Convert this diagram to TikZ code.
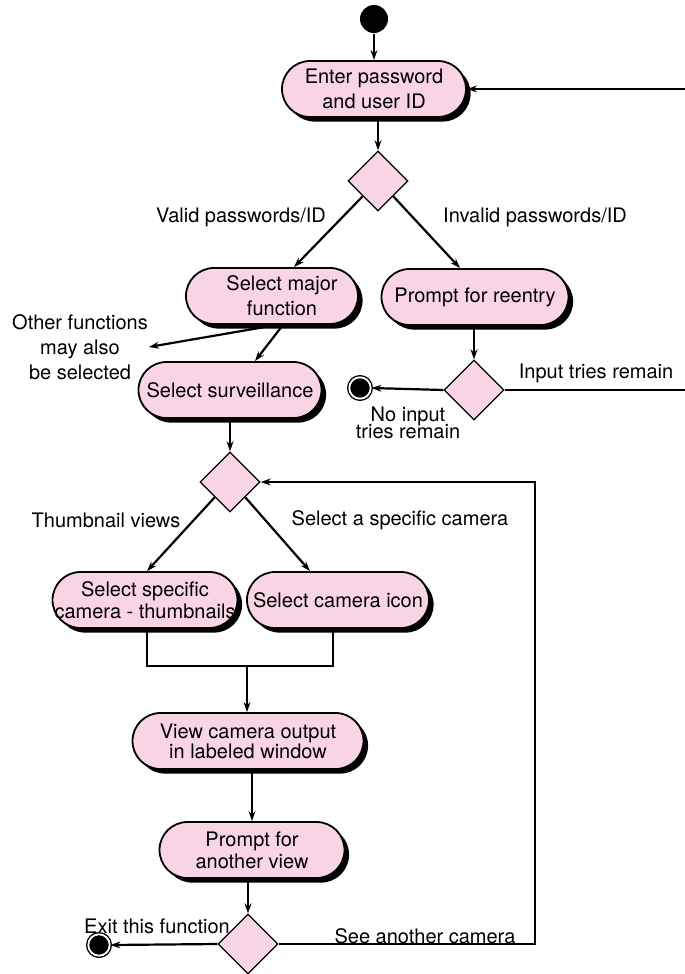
\documentclass[tikz,border=0pt]{standalone}
\usepackage{fontspec}
\setmainfont{TeX Gyre Heros}
\usetikzlibrary{shapes.geometric}
\usetikzlibrary{shadows}
\usetikzlibrary{arrows.meta}
\definecolor{actpink}{RGB}{249,212,228}

\begin{document}
\begin{tikzpicture}[x=0.5pt,y=-0.5pt,font=\fontsize{10}{12.5}\selectfont,line width=1.1pt]
\tikzstyle{activity}=[rectangle,rounded corners=14pt,draw,line width=0.9pt,fill=actpink,align=center,minimum height=28pt,inner sep=1pt,drop shadow={shadow xshift=2.3pt,shadow yshift=-2.3pt,fill=black,opacity=1}]
\tikzstyle{decision}=[diamond,draw,line width=0.6pt,fill=actpink,minimum width=30pt,minimum height=30pt,inner sep=0pt]
\tikzstyle{final}=[circle,draw,fill=black,line width=0.7pt,double=white,double distance=0.9pt,minimum size=10.7pt,inner sep=0pt]
\tikzstyle{guard}=[align=center,inner sep=0pt]
\tikzstyle{flow}=[-{Stealth[length=5pt,width=3.4pt]}]
\useasboundingbox (0,0) rectangle (685,974);
\node[circle,fill=black,minimum size=14pt,inner sep=0pt] (start) at (374,19) {};
\node[activity,minimum width=92pt] (enter) at (374,89) {Enter password\\and user ID};
\node[decision] (d1) at (378,181) {};
\node[activity,minimum width=86pt] (selmaj) at (272,296) {\hspace*{10pt}Select major\\\hspace*{10pt}function};
\node[activity,minimum width=93.5pt] (reentry) at (475,297) {Prompt for reentry};
\node[decision] (d2) at (474,390) {};
\node[final] (end1) at (360,388) {};
\node[activity,minimum width=91.5pt] (selsurv) at (230,390) {Select surveillance};
\node[decision] (d3) at (230,482) {};
\node[activity,minimum width=91.5pt] (thumbs) at (145,600) {Select specific\\[-1.5pt]camera - thumbnails};
\node[activity,minimum width=91pt] (camicon) at (338,600) {Select camera icon};
\node[activity,minimum width=115.5pt] (view) at (248,741) {View camera output\\[-2.5pt]in labeled window};
\node[activity,minimum width=92.5pt] (another) at (252,850) {Prompt for\\[-1.5pt]another view};
\node[decision] (d4) at (248,944) {};
\node[final] (exit) at (99,945) {};
\node[guard] (valid) at (241,217) {Valid passwords/ID};
\node[guard] (invalid) at (535,217) {Invalid passwords/ID};
\node[guard] (other) at (80,347) {Other functions\\may also\\be selected};
\node[guard] (tries) at (596,373) {Input tries remain};
\node[guard] (notries) at (408,423) {No input\\[-4pt]tries remain};
\node[guard] (thumbviews) at (106,520) {Thumbnail views};
\node[guard] (specific) at (400,520) {Select a specific camera};
\node[guard] (exitlbl) at (157,926) {Exit this function};
\node[guard] (seeanother) at (425,936) {See another camera};
\coordinate (join) at (247,666);
\draw[flow] (start) -- (enter);
\draw[flow] (enter.south -| d1) -- (d1.north);
\draw[flow] (d1.south west) -- ([xshift=11pt]selmaj.north);
\draw[flow] (d1.south east) -- ([xshift=-7.5pt]reentry.north);
\draw[flow] (reentry.south -| d2) -- (d2.north);
\draw[flow] (d2.west) -- (end1.east);
\draw[flow] (d2.east) -- (690,390) |- (enter.east);
\draw[flow] ([xshift=2.5pt]selmaj.south) -- (other.east);
\draw[flow] ([xshift=5.5pt]selmaj.south) -- ([xshift=12.5pt]selsurv.north);
\draw[flow] (selsurv.south) -- (d3.north);
\draw[flow] (d3.south west) -- ([xshift=1pt]thumbs.north);
\draw[flow] (d3.south east) -- ([xshift=-14pt]camicon.north);
\draw ([xshift=1pt]thumbs.south) |- (join) -| ([xshift=-2.5pt]camicon.south);
\draw[flow] (join) -- (join |- view.north);
\draw[flow] (view.south -| another) -- (another.north);
\draw[flow] (another.south -| d4) -- (d4.north);
\draw[flow] (d4.west) -- (exit.east);
\draw[flow] (d4.east) -- (535,944) |- (d3.east);
\end{tikzpicture}
\end{document}
